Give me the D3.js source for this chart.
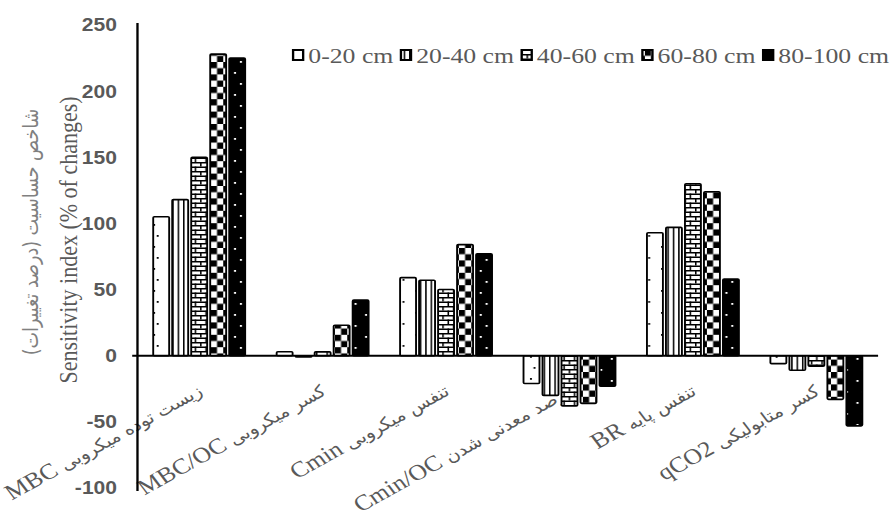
<!DOCTYPE html>
<html><head><meta charset="utf-8">
<script src="https://cdn.jsdelivr.net/npm/d3@7"></script>
<style>
body{margin:0;background:#fff} svg{display:block}
.serif{font-family:"Liberation Serif","Times New Roman","DejaVu Serif",serif}
.fa{font-family:"DejaVu Sans",sans-serif}
.sans{font-family:"Liberation Sans",Arial,sans-serif}
</style>
</head><body>
<svg id="chart" width="893" height="519"></svg>
<script>
// data ------------------------------
var categories=['MBC','MBC/OC','Cmin','Cmin/OC','BR','qCO2'];
var persianNames=['زیست توده میکروبی','کسر میکروبی','تنفس میکروبی','درصد معدنی شدن','تنفس پایه','کسر متابولیکی'];
var depths=['0-20 cm','20-40 cm','40-60 cm','60-80 cm','80-100 cm'];
var d0_20=[105,3,59,-21,93,-6];
var d20_40=[118,-1,57,-30,97,-11];
var d40_60=[150,3,50,-38,130,-8];
var d60_80=[228,23,84,-36,124,-33];
var d80_100=[225,42,77,-23,58,-53];
var series=[d0_20,d20_40,d40_60,d60_80,d80_100];
var yTicks=[-100,-50,0,50,100,150,200,250];

// the original picture is stretched sideways, so draw in a scaled group
var SX=1.17;
var grey='#595959';

var svg=d3.select('#chart');
var defs=svg.append('defs');
var g=svg.append('g').attr('transform','scale('+SX+',1)');

var y=d3.scaleLinear().domain([-100,250]).range([488,25]);
var x0=d3.scaleBand().domain(categories).range([117.5,750.5]).paddingInner(0.255).paddingOuter(0.1275);
var x1=d3.scaleBand().domain(depths).range([0,x0.bandwidth()]).paddingInner(0.16);

// patterns-----------------------------
function pattern(id,w,h){
  return defs.append('pattern').attr('id',id).attr('patternUnits','userSpaceOnUse')
    .attr('width',w).attr('height',h);
}
var p0=pattern('p0',14,22);
p0.append('rect').attr('width',14).attr('height',22).attr('fill','#fff');
p0.append('rect').attr('x',5).attr('y',4).attr('width',1.6).attr('height',1.8).attr('fill','#000');
p0.append('rect').attr('x',8).attr('y',15).attr('width',1.6).attr('height',1.8).attr('fill','#000');

var p1=pattern('p1',4.6,10);
p1.append('rect').attr('width',4.6).attr('height',10).attr('fill','#fff');
p1.append('rect').attr('x',0).attr('width',1.3).attr('height',10).attr('fill','#000');

var p2=pattern('p2',9,9);
p2.append('rect').attr('width',9).attr('height',9).attr('fill','#fff');
p2.append('rect').attr('y',0).attr('width',9).attr('height',1.5).attr('fill','#000');
p2.append('rect').attr('y',4.5).attr('width',9).attr('height',1.5).attr('fill','#000');
p2.append('rect').attr('x',0).attr('y',0).attr('width',1.3).attr('height',4.5).attr('fill','#000');
p2.append('rect').attr('x',4.5).attr('y',4.5).attr('width',1.3).attr('height',4.5).attr('fill','#000');

var p3=pattern('p3',10.6,12.4);
p3.append('rect').attr('width',10.6).attr('height',12.4).attr('fill','#fff');
p3.append('rect').attr('width',5.3).attr('height',6.2).attr('fill','#000');
p3.append('rect').attr('x',5.3).attr('y',6.2).attr('width',5.3).attr('height',6.2).attr('fill','#000');

var p4=pattern('p4',14,22);
p4.append('rect').attr('width',14).attr('height',22).attr('fill','#000');
p4.append('rect').attr('x',4).attr('y',6).attr('width',1.8).attr('height',1.8).attr('fill','#fff');
p4.append('rect').attr('x',9).attr('y',17).attr('width',1.8).attr('height',1.8).attr('fill','#fff');

var fills=['url(#p0)','url(#p1)','url(#p2)','url(#p3)','url(#p4)'];

// category labels (drawn first so bars sit over them)
categories.forEach(function(c,i){
  var cx=x0(c)+x0.bandwidth()/2;
  var t=g.append('text')
    .attr('transform','translate('+(cx+4)+',394) rotate(-33)')
    .attr('text-anchor','end')
    .attr('fill',grey);
  t.append('tspan').attr('class','serif').attr('font-size',22).text(c+' ');
  t.append('tspan').attr('class','fa').attr('font-size',16.5).text(persianNames[i]);
});

// bars
series.forEach(function(vals,si){
  g.append('g').selectAll('rect')
    .data(vals)
    .join('rect')
    .attr('x',function(d,i){return x0(categories[i])+x1(depths[si]);})
    .attr('y',function(d){return Math.min(y(d),y(0));})
    .attr('width',x1.bandwidth())
    .attr('height',function(d){return Math.abs(y(d)-y(0));})
    .attr('rx',1)
    .attr('fill',fills[si])
    .attr('stroke','#000')
    .attr('stroke-width',1.6);
});

// axes
g.append('line').attr('x1',113).attr('x2',750.5).attr('y1',y(0)).attr('y2',y(0))
  .attr('stroke','#000').attr('stroke-width',2);
g.append('line').attr('x1',117.5).attr('x2',117.5).attr('y1',y(250)-2).attr('y2',y(-100)+3)
  .attr('stroke','#000').attr('stroke-width',2);

g.selectAll('.tick').data(yTicks).join('text')
  .attr('class','tick sans')
  .attr('x',100).attr('y',function(d){return y(d);})
  .attr('dy','0.36em')
  .attr('text-anchor','end')
  .attr('font-weight','bold')
  .attr('font-size',18)
  .attr('fill',grey)
  .text(function(d){return d;});

// axis titles
g.append('text').attr('class','serif').attr('transform','translate(58,240) rotate(-90)')
  .attr('text-anchor','middle').attr('dy','0.35em')
  .attr('font-size',22).attr('fill',grey)
  .text('Sensitivity index (% of changes)');
g.append('text').attr('class','fa').attr('transform','translate(26,232) rotate(-90)')
  .attr('text-anchor','middle').attr('dy','0.35em')
  .attr('font-size',17.5).attr('fill','#808080')
  .text('شاخص حساسیت (درصد تغییرات)');

// legend
var lx=250.5;
depths.forEach(function(d,i){
  g.append('rect').attr('x',lx).attr('y',50).attr('width',8.6).attr('height',10)
    .attr('fill',fills[i]).attr('stroke','#000').attr('stroke-width',2);
  var t=g.append('text').attr('class','serif').attr('x',lx+13).attr('y',55).attr('dy','0.35em')
    .attr('font-size',22).attr('fill',grey).text(d);
  lx+=13+t.node().getComputedTextLength()+6.5;
});
</script>
</body></html>
